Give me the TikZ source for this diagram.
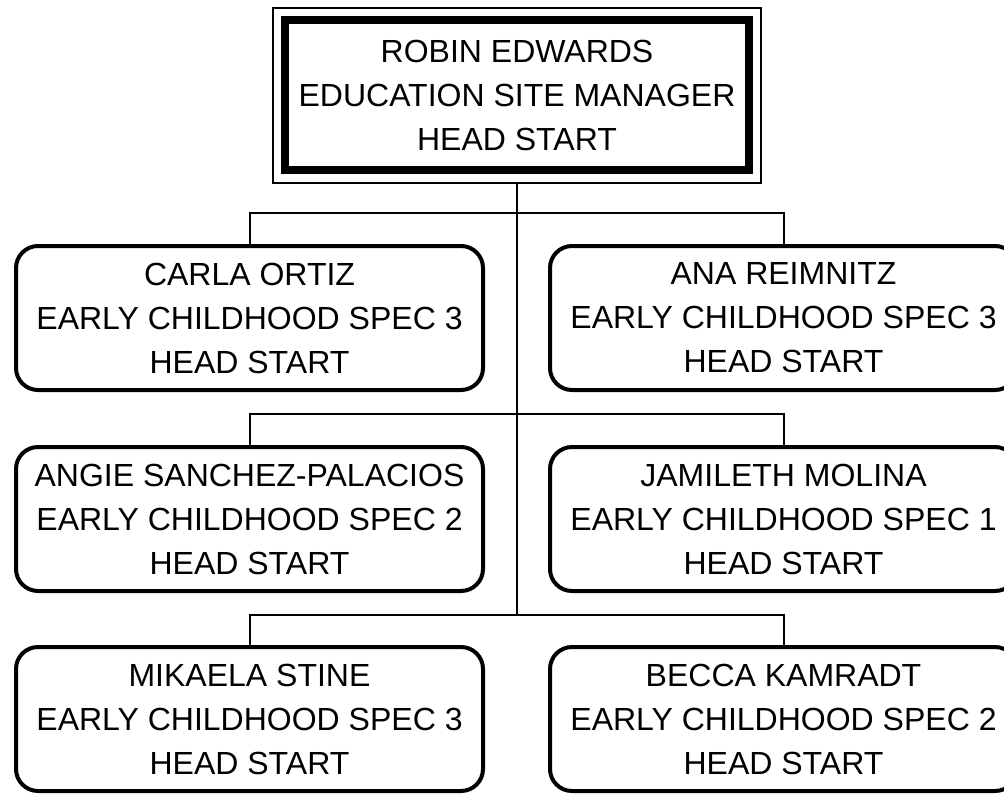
\documentclass[tikz,border=0pt]{standalone}
\usepackage{fontspec}
\setmainfont{Liberation Sans}
\tikzset{
  staffbox/.style={draw,line width=4pt,rounded corners=22pt,minimum width=467pt,minimum height=144pt,inner sep=0pt,align=center},
  headbox/.style={draw,line width=8pt,minimum width=464pt,minimum height=150pt,inner sep=0pt,align=center},
  headframe/.style={draw,line width=1.5pt,minimum width=488pt,minimum height=175pt,inner sep=0pt},
  link/.style={line width=2pt}
}
\begin{document}
\begin{tikzpicture}[x=1pt,y=-1pt,every node/.style={font=\fontsize{32}{44}\selectfont}]
\useasboundingbox (0,0) rectangle (1004,793);
\node[headframe] (bossframe) at (517,95.5) {};
\node[headbox] (boss) at (517,95) {ROBIN EDWARDS\\EDUCATION SITE MANAGER\\HEAD START};
\node[staffbox] (carla) at (249.5,318) {CARLA ORTIZ\\EARLY CHILDHOOD SPEC 3\\HEAD START};
\node[staffbox] (ana) at (783.5,318) {ANA REIMNITZ\\EARLY CHILDHOOD SPEC 3\\HEAD START};
\node[staffbox] (angie) at (249.5,519) {ANGIE SANCHEZ-PALACIOS\\EARLY CHILDHOOD SPEC 2\\HEAD START};
\node[staffbox] (jamileth) at (783.5,519) {JAMILETH MOLINA\\EARLY CHILDHOOD SPEC 1\\HEAD START};
\node[staffbox] (mikaela) at (249.5,719) {MIKAELA STINE\\EARLY CHILDHOOD SPEC 3\\HEAD START};
\node[staffbox] (becca) at (783.5,719) {BECCA KAMRADT\\EARLY CHILDHOOD SPEC 2\\HEAD START};
% junctions on the trunk
\coordinate (j1) at (517,213);
\coordinate (j2) at (517,414);
\coordinate (j3) at (517,615);
\draw[link] (bossframe.south) -- (j3);
\draw[link] (carla.north) |- (j1) -| (ana.north);
\draw[link] (angie.north) |- (j2) -| (jamileth.north);
\draw[link] (mikaela.north) |- (j3) -| (becca.north);
\end{tikzpicture}
\end{document}
